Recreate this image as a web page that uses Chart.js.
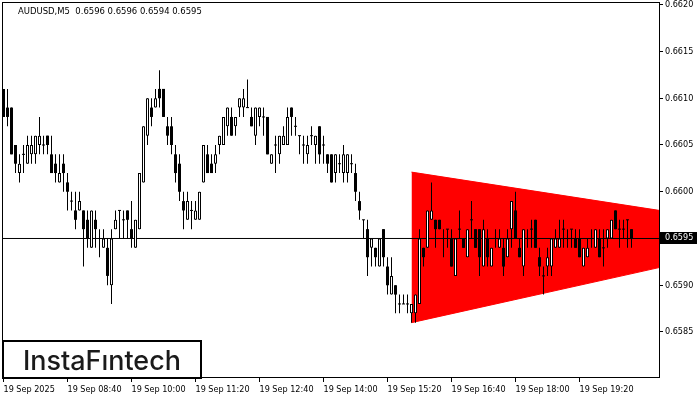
<!DOCTYPE html>
<html>
<head>
<meta charset="utf-8">
<script src="https://cdn.jsdelivr.net/npm/chart.js@4.4.1/dist/chart.umd.min.js"></script>
<style>
  html, body { margin: 0; padding: 0; background: #fff; }
  #wrap { width: 700px; height: 400px; position: relative; }
</style>
</head>
<body>
<div id="wrap"><canvas id="chart"></canvas></div>
<script>
// ── Data ─────────────────────────────────────────────────────────────────────

const chartTitle  = 'AUDUSD,M5  0.6596 0.6596 0.6594 0.6595';
const logoText    = 'InstaFıntech';
const timeLabels  = ['19 Sep 2025', '19 Sep 08:40', '19 Sep 10:00', '19 Sep 11:20', '19 Sep 12:40',
                     '19 Sep 14:00', '19 Sep 15:20', '19 Sep 16:40', '19 Sep 18:00', '19 Sep 19:20'];
const timeTickBars = [0, 16, 32, 48, 64, 80, 96, 112, 128, 144];
const priceTicks  = [0.6585, 0.6590, 0.6600, 0.6605, 0.6610, 0.6615, 0.6620];
const lastPrice   = 0.6595;

const opens = [
  0.6611,0.6609,0.6609,0.6605,0.6602,0.6604,0.6603,0.6604,0.6604,0.6605,
  0.6605,0.6606,0.6604,0.6603,0.6601,0.6603,0.6601,0.6599,0.6598,0.6598,
  0.6598,0.6597,0.6594,0.6597,0.6595,0.6594,0.6594,0.6590,0.6596,0.6598,
  0.6597,0.6598,0.6596,0.6594,0.6596,0.6601,0.6606,0.6609,0.6609,0.6611,
  0.6611,0.6607,0.6607,0.6604,0.6603,0.6599,0.6597,0.6598,0.6597,0.6597,
  0.6601,0.6604,0.6603,0.6603,0.6605,0.6605,0.6607,0.6608,0.6607,0.6609,
  0.6609,0.6609,0.6608,0.6606,0.6608,0.6608,0.6608,0.6603,0.6605,0.6604,
  0.6605,0.6605,0.6609,0.6607,0.6606,0.6605,0.6604,0.6606,0.6605,0.6607,
  0.6605,0.6604,0.6604,0.6602,0.6603,0.6602,0.6602,0.6603,0.6602,0.6599,
  0.6597,0.6596,0.6594,0.6594,0.6592,0.6596,0.6592,0.6589,0.6590,0.6588,
  0.6588,0.6588,0.6587,0.6587,0.6588,0.6594,0.6594,0.6597,0.6597,0.6597,
  0.6595,0.6596,0.6595,0.6591,0.6596,0.6595,0.6593,0.6597,0.6596,0.6596,
  0.6592,0.6595,0.6592,0.6595,0.6594,0.6594,0.6593,0.6596,0.6598,0.6594,
  0.6592,0.6595,0.6596,0.6597,0.6593,0.6591,0.6592,0.6592,0.6594,0.6594,
  0.6596,0.6595,0.6596,0.6595,0.6595,0.6592,0.6593,0.6595,0.6594,0.6595,
  0.6594,0.6595,0.6595,0.6598,0.6596,0.6596,0.6597,0.6596
];
const highs = [
  0.6611,0.6611,0.6609,0.6605,0.6604,0.6605,0.6606,0.6606,0.6606,0.6608,
  0.6606,0.6606,0.6606,0.6604,0.6604,0.6604,0.6602,0.6600,0.6600,0.6600,
  0.6598,0.6598,0.6598,0.6598,0.6596,0.6596,0.6595,0.6596,0.6598,0.6598,
  0.6598,0.6598,0.6599,0.6597,0.6602,0.6607,0.6610,0.6610,0.6611,0.6613,
  0.6611,0.6608,0.6608,0.6605,0.6604,0.6600,0.6600,0.6599,0.6599,0.6600,
  0.6605,0.6605,0.6604,0.6605,0.6606,0.6608,0.6609,0.6609,0.6608,0.6610,
  0.6611,0.6612,0.6609,0.6609,0.6609,0.6609,0.6608,0.6604,0.6606,0.6606,
  0.6607,0.6609,0.6609,0.6608,0.6606,0.6606,0.6606,0.6607,0.6606,0.6607,
  0.6606,0.6604,0.6604,0.6604,0.6604,0.6605,0.6604,0.6604,0.6603,0.6600,
  0.6597,0.6597,0.6595,0.6594,0.6595,0.6596,0.6593,0.6593,0.6590,0.6589,
  0.6589,0.6589,0.6588,0.6589,0.6596,0.6594,0.6598,0.6601,0.6597,0.6597,
  0.6596,0.6596,0.6596,0.6595,0.6598,0.6595,0.6596,0.6599,0.6596,0.6596,
  0.6597,0.6596,0.6594,0.6596,0.6596,0.6595,0.6596,0.6599,0.6600,0.6595,
  0.6596,0.6596,0.6597,0.6597,0.6594,0.6592,0.6594,0.6595,0.6596,0.6597,
  0.6597,0.6596,0.6596,0.6596,0.6596,0.6594,0.6595,0.6596,0.6596,0.6596,
  0.6596,0.6596,0.6597,0.6598,0.6597,0.6597,0.6597,0.6596
];
const lows = [
  0.6608,0.6607,0.6604,0.6602,0.6601,0.6602,0.6603,0.6603,0.6603,0.6604,
  0.6604,0.6604,0.6602,0.6601,0.6601,0.6600,0.6598,0.6598,0.6596,0.6598,
  0.6592,0.6594,0.6594,0.6594,0.6593,0.6594,0.6590,0.6588,0.6596,0.6595,
  0.6595,0.6595,0.6594,0.6594,0.6596,0.6601,0.6605,0.6607,0.6609,0.6609,
  0.6608,0.6605,0.6604,0.6601,0.6599,0.6596,0.6597,0.6596,0.6597,0.6597,
  0.6601,0.6602,0.6602,0.6602,0.6604,0.6605,0.6606,0.6606,0.6606,0.6608,
  0.6608,0.6609,0.6607,0.6605,0.6607,0.6606,0.6604,0.6603,0.6602,0.6603,
  0.6605,0.6605,0.6606,0.6606,0.6604,0.6603,0.6603,0.6605,0.6603,0.6603,
  0.6603,0.6602,0.6601,0.6601,0.6602,0.6601,0.6601,0.6602,0.6599,0.6597,
  0.6595,0.6591,0.6592,0.6592,0.6592,0.6592,0.6589,0.6589,0.6587,0.6587,
  0.6588,0.6587,0.6586,0.6586,0.6588,0.6592,0.6594,0.6597,0.6594,0.6596,
  0.6593,0.6594,0.6592,0.6591,0.6595,0.6594,0.6593,0.6595,0.6594,0.6591,
  0.6592,0.6592,0.6592,0.6594,0.6594,0.6591,0.6593,0.6594,0.6595,0.6593,
  0.6591,0.6594,0.6594,0.6594,0.6591,0.6589,0.6591,0.6591,0.6594,0.6594,
  0.6594,0.6594,0.6594,0.6594,0.6593,0.6592,0.6593,0.6594,0.6594,0.6593,
  0.6592,0.6594,0.6595,0.6596,0.6594,0.6595,0.6594,0.6594
];
const closes = [
  0.6608,0.6608,0.6604,0.6603,0.6603,0.6604,0.6605,0.6605,0.6606,0.6606,
  0.6605,0.6605,0.6602,0.6602,0.6602,0.6602,0.6600,0.6599,0.6597,0.6599,
  0.6596,0.6595,0.6598,0.6596,0.6595,0.6595,0.6591,0.6595,0.6597,0.6598,
  0.6597,0.6597,0.6595,0.6597,0.6602,0.6607,0.6610,0.6608,0.6610,0.6610,
  0.6608,0.6606,0.6605,0.6602,0.6600,0.6598,0.6599,0.6598,0.6598,0.6600,
  0.6605,0.6602,0.6602,0.6604,0.6606,0.6608,0.6609,0.6606,0.6608,0.6610,
  0.6610,0.6609,0.6607,0.6609,0.6609,0.6608,0.6604,0.6604,0.6605,0.6606,
  0.6606,0.6608,0.6608,0.6607,0.6606,0.6605,0.6605,0.6606,0.6606,0.6604,
  0.6605,0.6603,0.6601,0.6604,0.6603,0.6604,0.6604,0.6603,0.6600,0.6598,
  0.6597,0.6593,0.6595,0.6593,0.6595,0.6593,0.6590,0.6591,0.6589,0.6588,
  0.6588,0.6588,0.6588,0.6589,0.6595,0.6593,0.6598,0.6598,0.6596,0.6596,
  0.6595,0.6596,0.6592,0.6595,0.6596,0.6594,0.6596,0.6597,0.6594,0.6593,
  0.6596,0.6593,0.6594,0.6595,0.6595,0.6592,0.6595,0.6599,0.6595,0.6593,
  0.6596,0.6595,0.6596,0.6594,0.6592,0.6591,0.6593,0.6595,0.6595,0.6595,
  0.6596,0.6595,0.6596,0.6594,0.6593,0.6594,0.6594,0.6595,0.6596,0.6593,
  0.6594,0.6596,0.6597,0.6596,0.6596,0.6596,0.6597,0.6595
];

// triangle pattern: start bar -> right edge
const triangleBars   = [102, 164];
const triangleTop    = [0.66021, 0.65980];
const triangleBottom = [0.65860, 0.65919];

// ── Helpers ──────────────────────────────────────────────────────────────────

const FONT = "'DejaVu Sans Condensed', 'Liberation Sans', Arial, sans-serif";
const DOJI_HALF = 0.0000055;   // about half a pixel, so a doji shows as a thin dash

const bars = opens.map((_, i) => i);
const wickData = bars.map(i => ({ x: i, y: [lows[i], highs[i]] }));
const bullData = bars.filter(i => closes[i] > opens[i]).map(i => ({ x: i, y: [opens[i], closes[i]] }));
const bearData = bars.filter(i => closes[i] < opens[i]).map(i => ({ x: i, y: [closes[i], opens[i]] }));
const dojiData = bars.filter(i => closes[i] === opens[i])
                     .map(i => ({ x: i, y: [closes[i] - DOJI_HALF, closes[i] + DOJI_HALF] }));

const triTopPts = triangleBars.map((b, k) => ({ x: b, y: triangleTop[k] }));
const triBotPts = triangleBars.map((b, k) => ({ x: b, y: triangleBottom[k] }));
const priceLinePts = [{ x: -1, y: lastPrice }, { x: 165, y: lastPrice }];

// frame, title, bid box and logo
const decor = {
    id: 'decor',
    afterDatasetsDraw(chart) {
        const { ctx, chartArea: a } = chart;
        ctx.save();
        ctx.strokeStyle = '#000';
        ctx.lineWidth = 1;
        ctx.strokeRect(a.left - 0.5, a.top + 0.5, a.right - a.left + 1, a.bottom - a.top);
        ctx.restore();
    },
    afterDraw(chart) {
        const { ctx } = chart;
        const ys = chart.scales.y;
        ctx.save();

        // title, fitted to the width it has in the terminal
        ctx.fillStyle = '#000';
        let ts = 10.5;
        ctx.font = `${ts}px ${FONT}`;
        ts = Math.min(10.5, ts * 184 / ctx.measureText(chartTitle).width);
        ctx.font = `${ts}px ${FONT}`;
        ctx.textBaseline = 'middle';
        ctx.textAlign = 'left';
        ctx.fillText(chartTitle, 18, 11.5);

        const py = Math.round(ys.getPixelForValue(lastPrice));
        ctx.fillRect(660, py - 6, 37, 12);
        ctx.fillStyle = '#fff';
        ctx.font = `9px ${FONT}`;
        ctx.fillText(lastPrice.toFixed(4), 665, py);

        // logo box
        ctx.fillStyle = '#fff';
        ctx.fillRect(3, 341, 198, 37);
        ctx.strokeStyle = '#000';
        ctx.lineWidth = 2;
        ctx.strokeRect(3, 341, 198, 37);
        let size = 28;
        ctx.font = `500 ${size}px Inter, 'Noto Sans', sans-serif`;
        const w = ctx.measureText(logoText).width;
        size = size * 158 / w;
        ctx.font = `500 ${size}px Inter, 'Noto Sans', sans-serif`;
        ctx.fillStyle = '#1a1a1a';
        ctx.textBaseline = 'alphabetic';
        ctx.fillText(logoText, 23, 370);

        ctx.restore();
    }
};

// ── Chart ────────────────────────────────────────────────────────────────────

new Chart(document.getElementById('chart'), {
    type: 'bar',
    data: {
        datasets: [
            { type: 'line', data: triTopPts, borderColor: '#ff0000', borderWidth: 1,
              pointRadius: 0, fill: false, order: 10 },
            { type: 'line', data: triBotPts, borderColor: '#ff0000', borderWidth: 1,
              pointRadius: 0, fill: '-1', backgroundColor: '#ff0000', order: 9 },
            { type: 'line', data: priceLinePts, borderColor: '#000', borderWidth: 1,
              pointRadius: 0, fill: false, order: 5 },
            { data: wickData, backgroundColor: '#000', barThickness: 1, order: 3 },
            { data: bearData, backgroundColor: '#000', barThickness: 3, order: 2 },
            { data: bullData, backgroundColor: '#fff', borderColor: '#000', borderWidth: 1,
              borderSkipped: false, barThickness: 3, order: 1 },
            { data: dojiData, backgroundColor: '#000', barThickness: 3, order: 0 }
        ]
    },
    options: {
        responsive: true,
        maintainAspectRatio: false,
        animation: false,
        events: [],
        layout: { padding: { left: 3, top: 2, right: 0, bottom: 0 } },
        plugins: { legend: { display: false }, tooltip: { enabled: false } },
        datasets: { bar: { grouped: false, inflateAmount: 0 } },
        scales: {
            x: {
                type: 'linear',
                min: -0.125, max: 163.875,
                offset: false,
                grid: { drawOnChartArea: false, drawTicks: true, tickLength: 5, color: '#000', offset: false },
                border: { display: false },
                afterBuildTicks: s => { s.ticks = timeTickBars.map(v => ({ value: v })); },
                afterFit: s => { s.height = 23; s.paddingLeft = 0; s.paddingRight = 0; },
                ticks: {
                    align: 'start', autoSkip: false, maxRotation: 0, minRotation: 0,
                    padding: 2, color: '#000', font: { family: FONT, size: 9 },
                    callback: (v, i) => timeLabels[i]
                }
            },
            y: {
                type: 'linear',
                position: 'right',
                min: 0.6580187, max: 0.6620294,
                grid: { drawOnChartArea: false, drawTicks: true, tickLength: 4, color: '#000' },
                border: { display: false },
                afterBuildTicks: s => { s.ticks = priceTicks.map(v => ({ value: v })); },
                afterFit: s => { s.width = 41; s.paddingTop = 0; s.paddingBottom = 0; },
                ticks: {
                    padding: 2, color: '#000', font: { family: FONT, size: 9 },
                    callback: v => Number(v).toFixed(4)
                }
            }
        }
    },
    plugins: [decor]
});
</script>
</body>
</html>
